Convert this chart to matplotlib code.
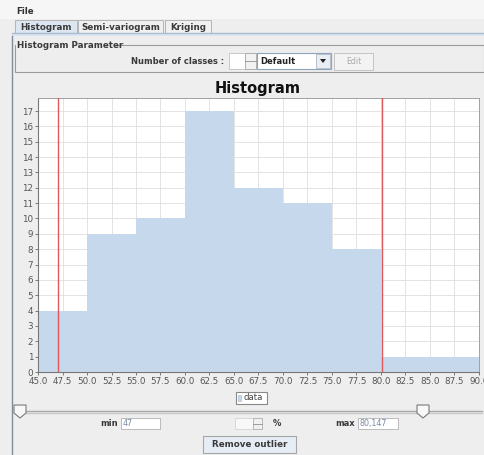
import matplotlib
matplotlib.use("Agg")
import matplotlib.pyplot as plt
from matplotlib.patches import Rectangle, Polygon
from matplotlib.lines import Line2D

# ---- data ----
bin_edges = [45.0, 50.0, 55.0, 60.0, 65.0, 70.0, 75.0, 80.0, 85.0, 90.0]
counts = [4, 9, 10, 17, 12, 11, 8, 1, 1]
min_value = 47
max_value = 80.147
x_ticks = [45.0, 47.5, 50.0, 52.5, 55.0, 57.5, 60.0, 62.5, 65.0, 67.5, 70.0,
           72.5, 75.0, 77.5, 80.0, 82.5, 85.0, 87.5, 90.0]
y_ticks = list(range(0, 18))
tab_labels = ["Histogram", "Semi-variogram", "Kriging"]

W, H = 485, 455
BG = "#EEEEEE"
fig = plt.figure(figsize=(W / 100, H / 100), dpi=100, facecolor=BG)


def fx(x):
    return x / W


def fy(y):
    return 1 - y / H


def rect(x0, y0, x1, y1, fc, ec="none", lw=0.8, z=1):
    fig.patches.append(Rectangle((fx(x0), fy(y1)), (x1 - x0) / W, (y1 - y0) / H,
                                 transform=fig.transFigure, facecolor=fc,
                                 edgecolor=ec, linewidth=lw, zorder=z))


def line(xs, ys, c, lw=0.8, z=2):
    fig.lines.append(Line2D([fx(v) for v in xs], [fy(v) for v in ys],
                            transform=fig.transFigure, color=c, linewidth=lw, zorder=z))


def text(x, y, s, size=6.2, weight="bold", color="#333333", ha="left", va="center"):
    fig.text(fx(x), fy(y), s, fontsize=size, fontweight=weight, color=color,
             ha=ha, va=va, family="DejaVu Sans")


# ---- menu bar and tabs ----
rect(0, 0, W, 19, "#F6F6F6")
text(16, 12, "File", size=6.2)
rect(12, 33, W, 36, "#DCE6F1")
line([12, W], [33, 33], "#A9BCD2", lw=1.0)
tab_x = [(15, 77), (78, 163), (165, 211)]
for (a, b), lab in zip(tab_x, tab_labels):
    sel = lab == "Histogram"
    rect(a, 20, b, 33, "#DCE6F1" if sel else "#F0F0F0", ec="#B5B5B5", lw=0.7)
    text((a + b) / 2, 27, lab, size=6.3, ha="center", color="#3a3a3a")

# left border of the content panel
line([12, 12], [36, H], "#7F8C9C", lw=1.0)

# ---- Histogram Parameter group ----
rect(15, 45, 484, 72, "none", ec="#9A9A9A", lw=0.8)
rect(16, 40, 114, 50, BG)
text(17, 45, "Histogram Parameter", size=6.3, color="#3a3a3a")
text(224, 61, "Number of classes :", size=6.0, ha="right", color="#3a3a3a")
rect(229, 53, 256, 69, "white", ec="#C8C8C8", lw=0.7)
rect(245, 53, 256, 69, "#F2F2F2", ec="#B0B0B0", lw=0.7)
line([245, 256], [61, 61], "#909090", lw=0.6)
rect(257, 53, 331, 69, "white", ec="#8FA3BB", lw=0.8)
text(260, 61, "Default", size=6.0, color="#222222")
rect(316, 54, 330, 68, "#E9EEF4", ec="#B0B8C4", lw=0.6)
fig.patches.append(Polygon([(fx(320), fy(59)), (fx(326), fy(59)), (fx(323), fy(63))],
                           closed=True, transform=fig.transFigure,
                           facecolor="#222222", edgecolor="none", zorder=3))
rect(334, 53, 373, 70, "#F3F3F3", ec="#C4C4C4", lw=0.7)
text(353.5, 61.5, "Edit", size=5.6, weight="normal", ha="center", color="#AAAAAA")

# ---- chart ----
text(258, 89, "Histogram", size=10.5, ha="center", color="#111111")

ax = fig.add_axes([fx(38), fy(372), (479 - 38) / W, (372 - 98) / H])
ax.set_facecolor("white")
lefts = bin_edges[:-1]
widths = [b - a for a, b in zip(bin_edges[:-1], bin_edges[1:])]
ax.bar(lefts, counts, width=widths, align="edge", color="#C6D9EC",
       linewidth=0, zorder=2, label="data")
ax.axvline(min_value, color="#E0585A", linewidth=1.0, zorder=3)
ax.axvline(max_value, color="#E0585A", linewidth=1.0, zorder=3)
ax.set_xlim(bin_edges[0], bin_edges[-1])
ax.set_ylim(0, max(counts) * 1.05)
ax.set_xticks(x_ticks)
ax.set_xticklabels([f"{v:.1f}" for v in x_ticks])
ax.set_yticks(y_ticks)
ax.set_yticklabels([str(v) for v in y_ticks])
ax.grid(True, color="#E3E3E3", linewidth=0.7, zorder=0)
ax.set_axisbelow(True)
ax.tick_params(axis="both", labelsize=6.3, colors="#666666", length=2,
               width=0.6, pad=1.5)
for lab in ax.get_xticklabels() + ax.get_yticklabels():
    lab.set_color("#555555")
for side in ["top", "right"]:
    ax.spines[side].set_color("#A0A0A0")
    ax.spines[side].set_linewidth(0.7)
for side in ["left", "bottom"]:
    ax.spines[side].set_color("#777777")
    ax.spines[side].set_linewidth(0.8)

# legend box
rect(236, 392, 267, 404, "white", ec="#888888", lw=0.8)
rect(238, 395, 241, 401, "#C6D9EC", ec="#9DB4CC", lw=0.4)
text(244, 398, "data", size=6.2, weight="normal", color="#444444")

# ---- slider ----
line([15, 482], [411, 411], "#A8A8A8", lw=1.0)
line([15, 482], [413, 413], "#C8C8C8", lw=1.0)
for tx in [20, 423]:
    pts = [(tx - 6, 405), (tx + 6, 405), (tx + 6, 413), (tx, 418), (tx - 6, 413)]
    fig.patches.append(Polygon([(fx(a), fy(b)) for a, b in pts], closed=True,
                               transform=fig.transFigure, facecolor="#F8F8F8",
                               edgecolor="#7A7A7A", linewidth=0.8, zorder=3))

# min / percent / max
text(118, 423.5, "min", size=6.0, ha="right", color="#3a3a3a")
rect(121, 418, 160, 429, "white", ec="#BBBBBB", lw=0.7)
text(123, 423.5, str(min_value), size=5.8, weight="normal", color="#7A8AA0")
rect(235, 418, 262, 429, "#F8F8F8", ec="#D8D8D8", lw=0.7)
rect(253, 418, 262, 429, "#F0F0F0", ec="#B0B0B0", lw=0.6)
line([253, 262], [423.5, 423.5], "#909090", lw=0.6)
text(273, 423.5, "%", size=6.0, color="#3a3a3a")
text(355, 423.5, "max", size=6.0, ha="right", color="#3a3a3a")
rect(358, 418, 398, 429, "white", ec="#BBBBBB", lw=0.7)
text(360, 423.5, f"{max_value}".replace(".", ","), size=5.8, weight="normal",
     color="#7A8AA0")

# Remove outlier button
rect(203, 436, 296, 453, "#E6EDF5", ec="#A6A6A6", lw=0.8)
text(249.5, 444.5, "Remove outlier", size=6.3, ha="center", color="#3a3a3a")

fig.savefig("out.png", dpi=100, facecolor=BG)
